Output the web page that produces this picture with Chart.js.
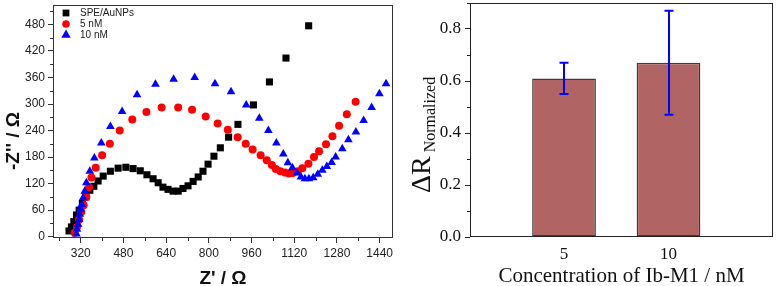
<!DOCTYPE html>
<html>
<head>
<meta charset="utf-8">
<script src="https://cdn.jsdelivr.net/npm/chart.js@4.4.1/dist/chart.umd.min.js"></script>
<style>
  html, body { margin: 0; padding: 0; background: #fff; }
  #wrap { position: relative; width: 778px; height: 286px; }
  #left { position: absolute; left: 0; top: 0; width: 400px; height: 286px; }
  #right { position: absolute; left: 400px; top: 0; width: 378px; height: 286px; }
</style>
</head>
<body>
<div id="wrap">
  <div id="left"><canvas id="nyquistChart"></canvas></div>
  <div id="right"><canvas id="barChart"></canvas></div>
</div>
<script>
// ---- Nyquist plot data (Z' and -Z'' in ohm) ----
const seriesNames = ['SPE/AuNPs', '5 nM', '10 nM'];

const speZre = [276, 285, 294, 304, 314, 326, 339, 354, 369, 385, 404, 431, 460, 489, 516, 543, 568, 591, 610, 628,
  647, 666, 685, 703, 722, 741, 760, 778, 797, 819, 843, 874, 909, 967, 1027, 1089, 1174];
const speZim = [13, 22, 34, 49, 60, 75, 90, 105, 114, 126, 137, 148, 155, 157, 154, 149, 140, 131, 122, 112,
  107, 103, 103, 109, 115, 125, 135, 148, 164, 182, 201, 225, 254, 298, 350, 404, 477];

const nm5Zre = [297, 306, 314, 322, 331, 341, 351, 360, 376, 400, 429, 466, 513, 566, 623, 685, 737, 788, 833, 871,
  908, 938, 964, 994, 1017, 1036, 1051, 1068, 1085, 1100, 1115, 1133, 1150, 1173, 1194, 1213, 1239, 1263, 1288, 1317, 1350];
const nm5Zim = [9, 22, 38, 56, 71, 90, 112, 134, 156, 184, 210, 240, 265, 282, 292, 292, 287, 272, 256, 242,
  225, 210, 197, 184, 173, 162, 153, 148, 145, 143, 144, 148, 155, 165, 180, 193, 209, 227, 251, 277, 305];

const nm10Zre = [304, 306, 310, 314, 316, 320, 324, 329, 335, 341, 354, 371, 397, 431, 475, 531, 600, 668, 747, 823,
  883, 940, 989, 1023, 1053, 1079, 1096, 1113, 1130, 1145, 1160, 1175, 1191, 1208, 1225, 1242, 1260, 1275, 1300, 1323,
  1351, 1380, 1410, 1439, 1464];
const nm10Zim = [6, 17, 28, 39, 51, 62, 73, 88, 103, 122, 148, 178, 212, 249, 283, 321, 345, 356, 360, 346,
  328, 298, 268, 240, 212, 187, 167, 156, 144, 135, 131, 131, 133, 141, 150, 159, 168, 180, 199, 219,
  237, 263, 292, 323, 346];

const zreTicks = [320, 480, 640, 800, 960, 1120, 1280, 1440];
const zimTicks = [0, 60, 120, 180, 240, 300, 360, 420, 480];

// ---- Bar chart data ----
const concLabels = ['5', '10'];
const deltaR = [0.61, 0.67];
const deltaRErr = [0.06, 0.20];
const deltaTicks = [0, 0.2, 0.4, 0.6, 0.8];

function toPoints(xs, ys) {
  return xs.map((x, i) => ({ x: x, y: ys[i] }));
}

// keep chart area where I put it, labels may overhang
function noScalePadding(s) {
  s.paddingTop = 0;
  s.paddingBottom = 0;
  s.paddingLeft = 0;
  s.paddingRight = 0;
}

// box around the plot area
const boxFrame = {
  id: 'boxFrame',
  afterDraw(chart, args, opts) {
    const { ctx, chartArea: a } = chart;
    ctx.save();
    ctx.strokeStyle = opts.color || '#333';
    ctx.lineWidth = 1;
    ctx.strokeRect(Math.round(a.left) + 0.5, Math.round(a.top) + 0.5,
      Math.round(a.right - a.left) - 1, Math.round(a.bottom - a.top) - 1);
    ctx.restore();
  }
};

// short outside ticks between the labelled ones
const minorTicks = {
  id: 'minorTicks',
  afterDraw(chart, args, opts) {
    const { ctx } = chart;
    ctx.save();
    ctx.strokeStyle = opts.color || '#333';
    ctx.lineWidth = 1;
    ctx.beginPath();
    Object.keys(opts.steps || {}).forEach(id => {
      const scale = chart.scales[id];
      const step = opts.steps[id];
      const start = Math.ceil(scale.min / step) * step;
      for (let v = start; v <= scale.max + 1e-9; v += step) {
        if (Math.abs(Math.round(v / (2 * step)) * 2 * step - v) < 1e-9) continue;
        const p = Math.round(scale.getPixelForValue(v)) + 0.5;
        if (scale.isHorizontal()) {
          const y0 = Math.round(scale.top);
          ctx.moveTo(p, y0);
          ctx.lineTo(p, y0 + opts.length);
        } else {
          const x0 = Math.round(scale.right);
          ctx.moveTo(x0, p);
          ctx.lineTo(x0 - opts.length, p);
        }
      }
    });
    ctx.stroke();
    ctx.restore();
  }
};

const nyquistLegend = {
  id: 'nyquistLegend',
  afterDraw(chart) {
    const { ctx } = chart;
    const styles = [
      { pointStyle: 'rect', radius: 4.8, color: '#000000' },
      { pointStyle: 'circle', radius: 3.8, color: '#ff0000' },
      { pointStyle: 'triangle', radius: 5.4, color: '#0000ff' }
    ];
    ctx.save();
    ctx.font = '10px "Liberation Sans", Arial, sans-serif';
    ctx.textBaseline = 'middle';
    ctx.textAlign = 'left';
    seriesNames.forEach((name, i) => {
      const y = 13 + i * 11;
      ctx.fillStyle = styles[i].color;
      Chart.helpers.drawPoint(ctx, { pointStyle: styles[i].pointStyle, radius: styles[i].radius, rotation: 0, borderWidth: 0 }, 66, y);
      ctx.fillStyle = '#222';
      ctx.fillText(name, 80, y);
    });
    ctx.restore();
  }
};

const nyquistTitles = {
  id: 'nyquistTitles',
  afterDraw(chart) {
    const { ctx, chartArea: a } = chart;
    ctx.save();
    ctx.fillStyle = '#111';
    ctx.font = 'bold 19px "Liberation Sans", Arial, sans-serif';
    ctx.textAlign = 'center';
    ctx.textBaseline = 'alphabetic';
    ctx.fillText("Z' / \u03A9", (a.left + a.right) / 2, 284);
    ctx.translate(19, 141);
    ctx.rotate(-Math.PI / 2);
    ctx.fillText("-Z'' / \u03A9", 0, 0);
    ctx.restore();
  }
};

new Chart(document.getElementById('nyquistChart'), {
  type: 'scatter',
  data: {
    datasets: [
      { label: seriesNames[2], data: toPoints(nm10Zre, nm10Zim), pointStyle: 'triangle', pointRadius: 5,
        backgroundColor: '#0000ff', borderWidth: 0, order: 0 },
      { label: seriesNames[1], data: toPoints(nm5Zre, nm5Zim), pointStyle: 'circle', pointRadius: 4,
        backgroundColor: '#ff0000', borderWidth: 0, order: 1 },
      { label: seriesNames[0], data: toPoints(speZre, speZim), pointStyle: 'rect', pointRadius: 5,
        backgroundColor: '#000000', borderWidth: 0, order: 2 }
    ]
  },
  options: {
    animation: false,
    responsive: true,
    maintainAspectRatio: false,
    layout: { padding: { left: 0, top: 4, right: 7, bottom: 0 } },
    plugins: {
      legend: { display: false },
      tooltip: { enabled: false },
      boxFrame: { color: '#333' },
      minorTicks: { steps: { x: 80, y: 30 }, length: 3, color: '#333' }
    },
    scales: {
      x: {
        type: 'linear', min: 216, max: 1490,
        afterBuildTicks: s => { s.ticks = zreTicks.map(v => ({ value: v })); },
        afterFit: s => { s.height = 48; noScalePadding(s); },
        border: { display: false },
        grid: { drawOnChartArea: false, drawTicks: true, tickLength: 5, color: '#333' },
        ticks: { padding: 3, color: '#222', font: { family: '"Liberation Sans", Arial, sans-serif', size: 12 },
          maxRotation: 0, callback: v => String(v) }
      },
      y: {
        type: 'linear', min: -3, max: 524,
        afterBuildTicks: s => { s.ticks = zimTicks.map(v => ({ value: v })); },
        afterFit: s => { s.width = 53; noScalePadding(s); },
        border: { display: false },
        grid: { drawOnChartArea: false, drawTicks: true, tickLength: 5, color: '#333' },
        ticks: { padding: 3, color: '#222', font: { family: '"Liberation Sans", Arial, sans-serif', size: 12 },
          callback: v => String(v) }
      }
    }
  },
  plugins: [boxFrame, minorTicks, nyquistLegend, nyquistTitles]
});

// ---- bar chart with error bars ----
const errorBars = {
  id: 'errorBars',
  afterDatasetsDraw(chart) {
    const { ctx } = chart;
    const yScale = chart.scales.y;
    const meta = chart.getDatasetMeta(0);
    ctx.save();
    ctx.strokeStyle = '#0000ff';
    ctx.lineWidth = 2;
    meta.data.forEach((bar, i) => {
      const x = Math.round(bar.x);
      const yTop = yScale.getPixelForValue(deltaR[i] + deltaRErr[i]);
      const yBot = yScale.getPixelForValue(deltaR[i] - deltaRErr[i]);
      ctx.beginPath();
      ctx.moveTo(x, yTop);
      ctx.lineTo(x, yBot);
      ctx.moveTo(x - 4.5, yTop);
      ctx.lineTo(x + 4.5, yTop);
      ctx.moveTo(x - 4.5, yBot);
      ctx.lineTo(x + 4.5, yBot);
      ctx.stroke();
    });
    ctx.restore();
  }
};

const barTitles = {
  id: 'barTitles',
  afterDraw(chart) {
    const { ctx, chartArea: a } = chart;
    ctx.save();
    ctx.fillStyle = '#111';
    ctx.textBaseline = 'alphabetic';
    ctx.textAlign = 'center';
    ctx.font = '21px "Liberation Serif", "Times New Roman", serif';
    ctx.fillText('Concentration of Ib-M1 / nM', (a.left + a.right) / 2, 282);
    ctx.translate(30, 193);
    ctx.rotate(-Math.PI / 2);
    ctx.textAlign = 'left';
    ctx.font = '28px "Liberation Serif", "Times New Roman", serif';
    ctx.fillText('\u0394R', 0, 0);
    const w = ctx.measureText('\u0394R').width;
    ctx.font = '16px "Liberation Serif", "Times New Roman", serif';
    ctx.fillText('Normalized', w + 4, 5);
    ctx.restore();
  }
};

new Chart(document.getElementById('barChart'), {
  type: 'bar',
  data: {
    datasets: [{
      label: 'ΔR Normalized',
      data: deltaR.map((v, i) => ({ x: i + 1, y: v })),
      backgroundColor: '#b06464',
      borderColor: '#3c3c3c',
      borderWidth: 1.5,
      borderSkipped: false,
      categoryPercentage: 1,
      barPercentage: 0.61
    }]
  },
  options: {
    animation: false,
    responsive: true,
    maintainAspectRatio: false,
    layout: { padding: { left: 0, top: 3, right: 5, bottom: 0 } },
    plugins: {
      legend: { display: false },
      tooltip: { enabled: false },
      boxFrame: { color: '#222' },
      minorTicks: { steps: { y: 0.1 }, length: 3, color: '#222' }
    },
    scales: {
      x: {
        type: 'linear', min: 0.1, max: 3.0, offset: false,
        afterBuildTicks: s => { s.ticks = concLabels.map((c, i) => ({ value: i + 1 })); },
        afterFit: s => { s.height = 49; noScalePadding(s); },
        border: { display: false },
        grid: { display: true, drawOnChartArea: false, drawTicks: false },
        ticks: {
          padding: 7, color: '#111', maxRotation: 0,
          font: { family: '"Liberation Serif", "Times New Roman", serif', size: 17 },
          callback: v => concLabels[Math.round(v) - 1]
        }
      },
      y: {
        type: 'linear', min: 0, max: 0.9,
        afterBuildTicks: s => { s.ticks = deltaTicks.map(v => ({ value: v })); },
        afterFit: s => { s.width = 70; noScalePadding(s); },
        border: { display: false },
        grid: { drawOnChartArea: false, drawTicks: true, tickLength: 5, color: '#222' },
        ticks: {
          padding: 4, color: '#111',
          font: { family: '"Liberation Serif", "Times New Roman", serif', size: 17 },
          callback: v => v.toFixed(1)
        }
      }
    }
  },
  plugins: [boxFrame, minorTicks, errorBars, barTitles]
});
</script>
</body>
</html>
